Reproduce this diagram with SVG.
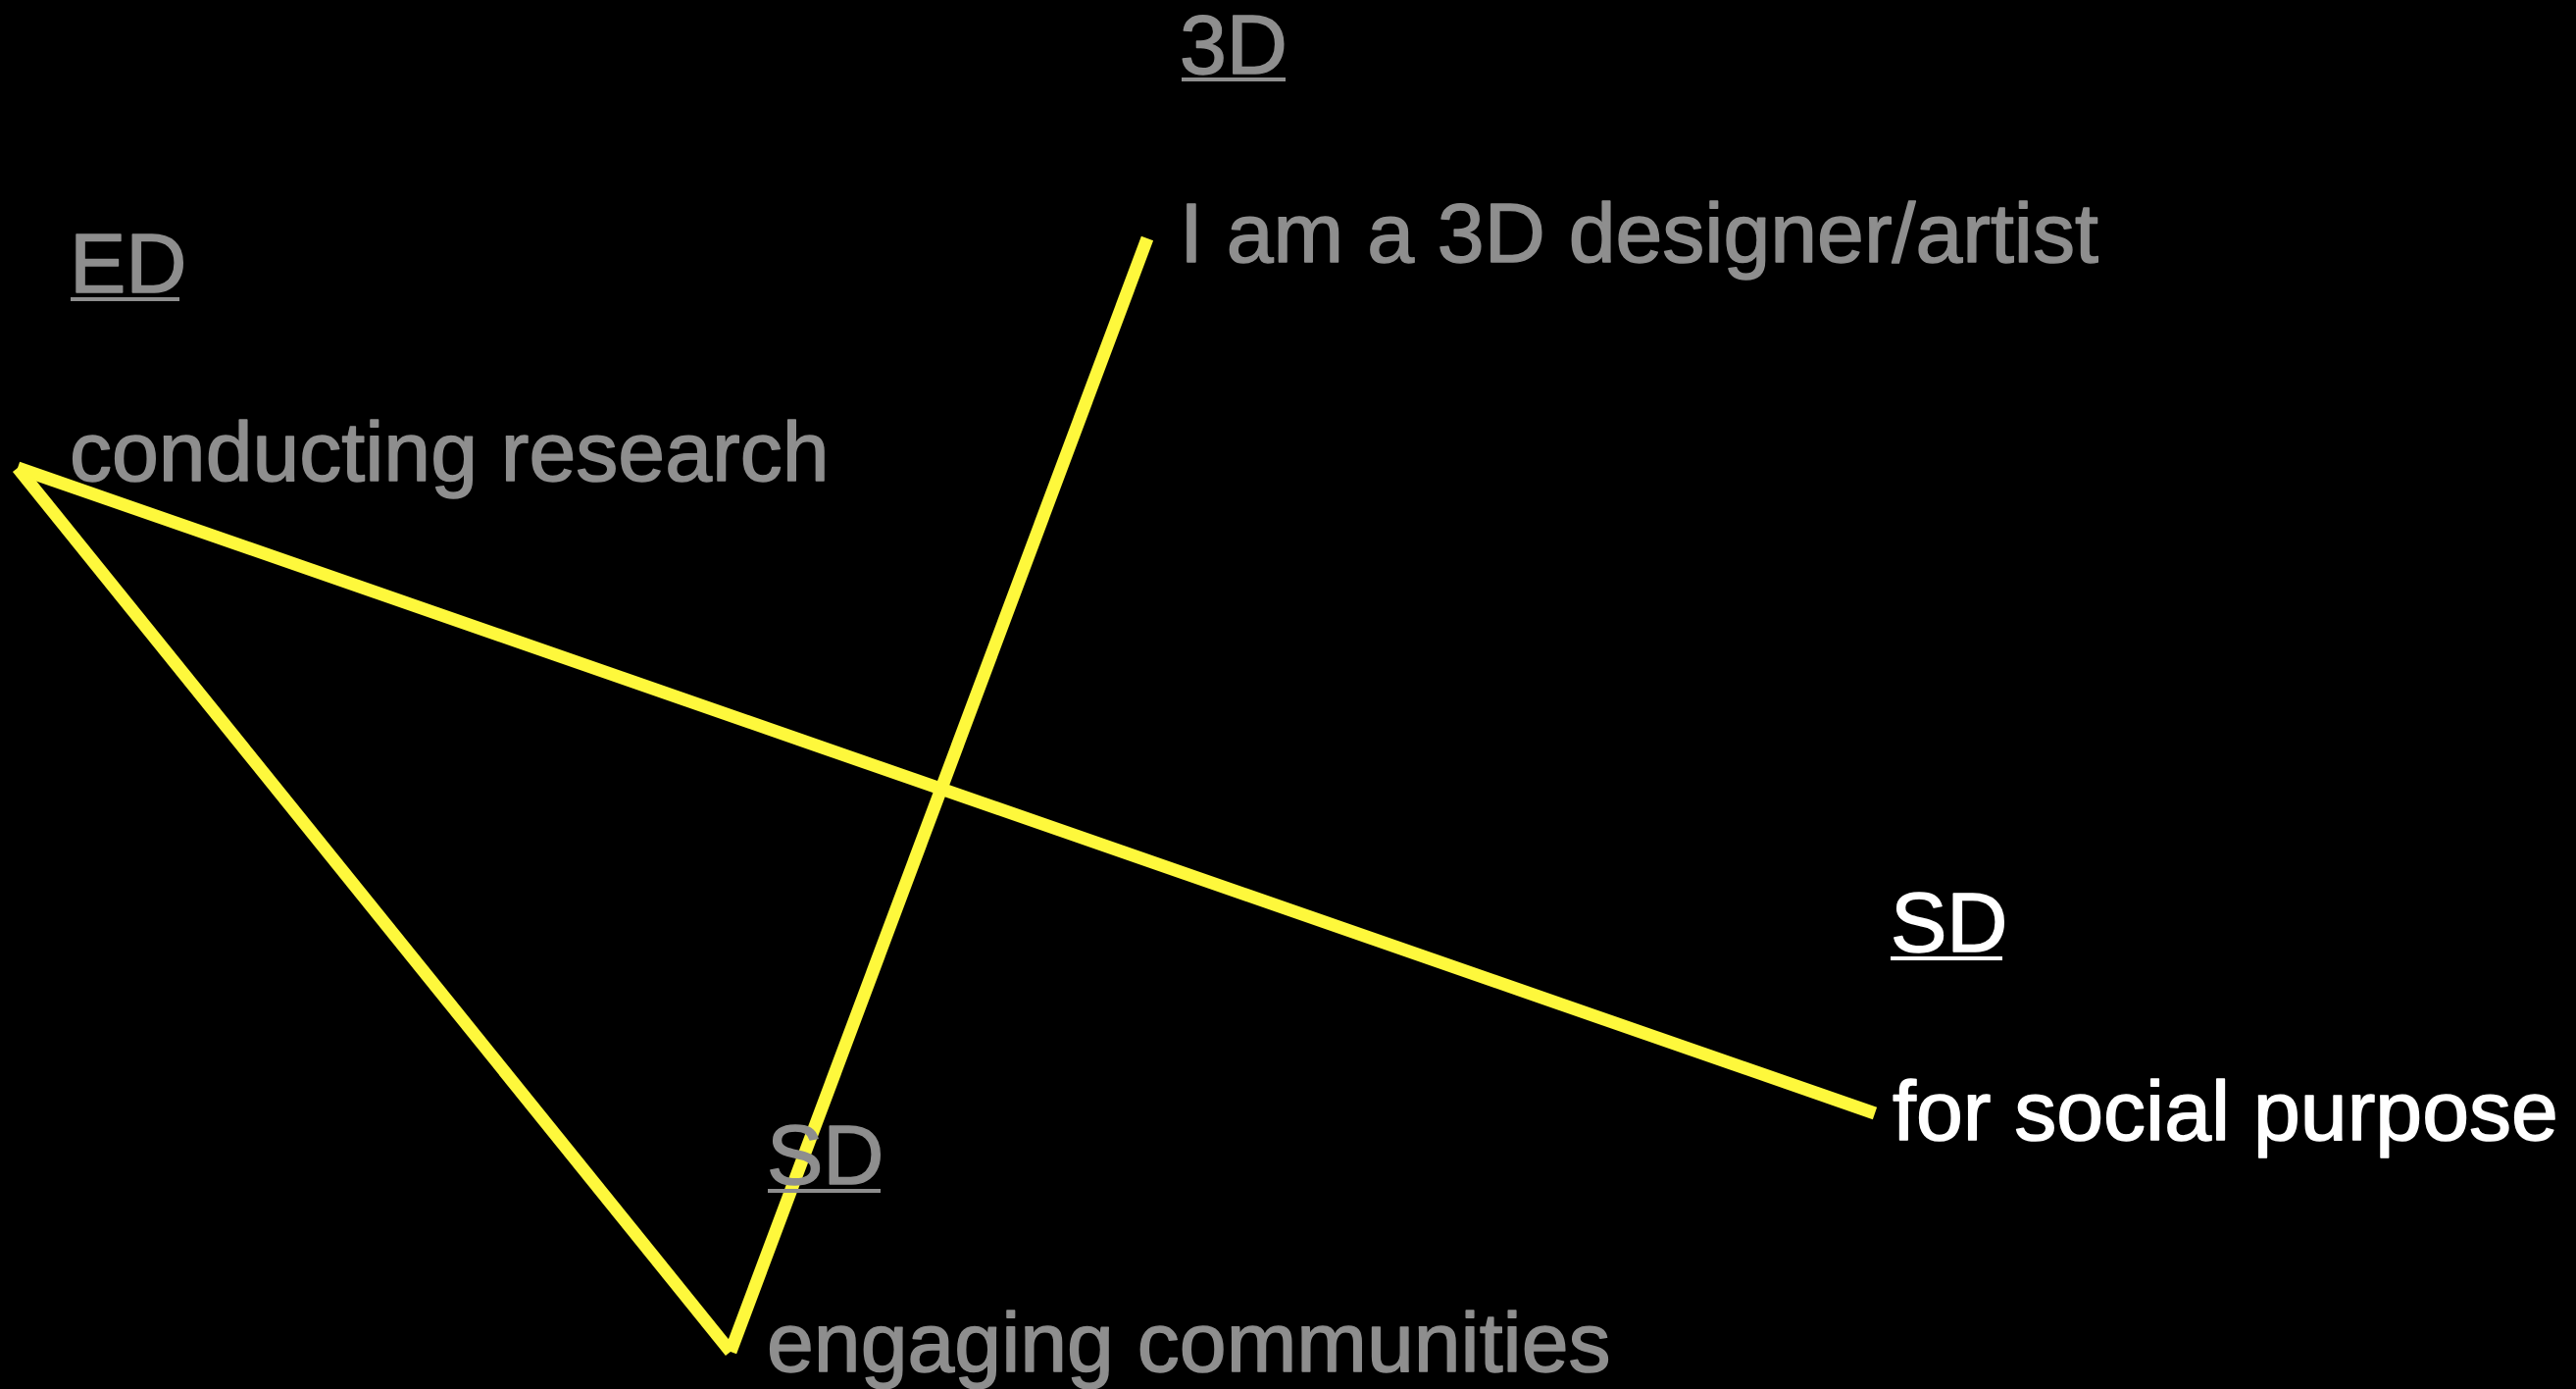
<svg xmlns="http://www.w3.org/2000/svg" width="2627" height="1416" viewBox="0 0 2627 1416">
  <style>
    .t { font-family: "Liberation Sans", Arial, Helvetica, sans-serif; font-size: 86px; stroke-width: 1.5; stroke-linejoin: round; }
    .g { fill: #8e8e8e; stroke: #8e8e8e; }
    .w { fill: #ffffff; stroke: #ffffff; }
    .ug { stroke: #8e8e8e; stroke-width: 4; }
    .uw { stroke: #ffffff; stroke-width: 4; }
    .c { stroke: #fef83c; stroke-width: 13; stroke-linecap: butt; fill: none; }
  </style>
  <rect x="0" y="0" width="2627" height="1416" fill="#000000"/>
  <g id="connectors">
    <line class="c" x1="18" y1="477" x2="1912" y2="1135"/>
    <line class="c" x1="18" y1="477" x2="745" y2="1378"/>
    <line class="c" x1="745" y1="1378" x2="1170" y2="243"/>
  </g>
  <g id="node-ed">
    <text class="t g" x="71" y="298">ED</text>
    <line class="ug" x1="72" y1="305" x2="183" y2="305"/>
    <text class="t g" x="71" y="490">conducting research</text>
  </g>
  <g id="node-3d">
    <text class="t g" x="1203" y="75">3D</text>
    <line class="ug" x1="1205" y1="81" x2="1311" y2="81"/>
    <text class="t g" x="1203" y="267">I am a 3D designer/artist</text>
  </g>
  <g id="node-sd-social">
    <text class="t w" x="1928" y="970">SD</text>
    <line class="uw" x1="1928" y1="977" x2="2042" y2="977"/>
    <text class="t w" x="1930" y="1162">for social purpose</text>
  </g>
  <g id="node-sd-communities">
    <text class="t g" x="782" y="1207">SD</text>
    <line class="ug" x1="783" y1="1214" x2="898" y2="1214"/>
    <text class="t g" x="782" y="1398">engaging communities</text>
  </g>
</svg>
